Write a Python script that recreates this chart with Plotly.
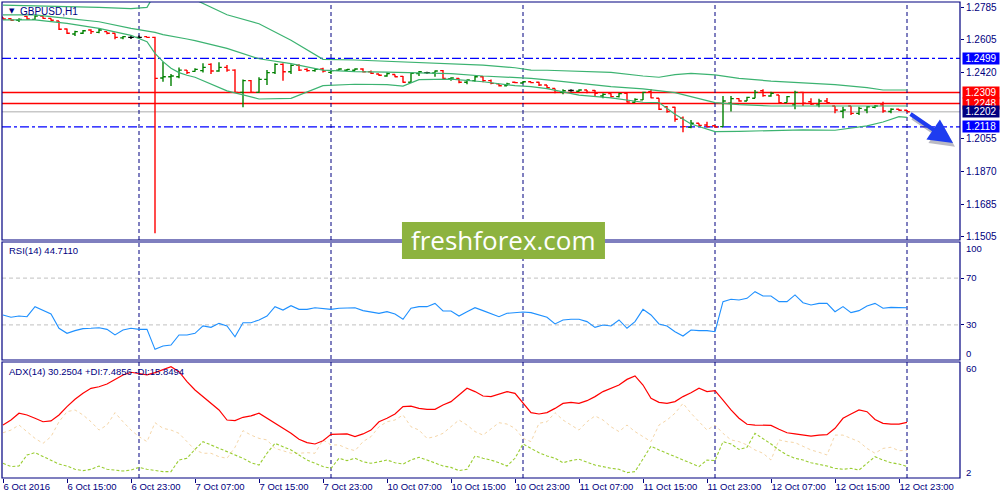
import plotly.graph_objects as go

# --- DATA ---
# bar index 0 = 6 Oct 07:00, one bar per hour, 114 bars (H1)
open_ = [
    1.2728, 1.2720, 1.2711, 1.2733, 1.2716, 1.2735, 1.2722, 1.2707, 1.2663, 1.2635,
    1.2639, 1.2657, 1.2644, 1.2648, 1.2639, 1.2613, 1.2616, 1.2616, 1.2620, 1.2616,
    1.2390, 1.2397, 1.2397, 1.2434, 1.2427, 1.2431, 1.2466, 1.2429, 1.2449, 1.2434,
    1.2310, 1.2375, 1.2310, 1.2382, 1.2420, 1.2466, 1.2425, 1.2460, 1.2438, 1.2431,
    1.2440, 1.2421, 1.2433, 1.2433, 1.2433, 1.2440, 1.2425, 1.2412, 1.2401, 1.2409,
    1.2399, 1.2366, 1.2414, 1.2420, 1.2418, 1.2431, 1.2386, 1.2388, 1.2366, 1.2375,
    1.2397, 1.2375, 1.2357, 1.2347, 1.2366, 1.2362, 1.2369, 1.2366, 1.2351, 1.2332,
    1.2310, 1.2320, 1.2316, 1.2323, 1.2320, 1.2290, 1.2303, 1.2286, 1.2305, 1.2255,
    1.2268, 1.2314, 1.2277, 1.2230, 1.2227, 1.2166, 1.2115, 1.2138, 1.2128, 1.2124,
    1.2119, 1.2249, 1.2275, 1.2262, 1.2277, 1.2319, 1.2290, 1.2295, 1.2253, 1.2240,
    1.2310, 1.2258, 1.2240, 1.2262, 1.2234, 1.2205, 1.2234, 1.2193, 1.2212, 1.2227,
    1.2240, 1.2203, 1.2216, 1.2210]
high = [
    1.2728, 1.2722, 1.2722, 1.2735, 1.2739, 1.2737, 1.2722, 1.2707, 1.2666, 1.2653,
    1.2657, 1.2661, 1.2666, 1.2648, 1.2639, 1.2624, 1.2626, 1.2626, 1.2620, 1.2620,
    1.2481, 1.2412, 1.2449, 1.2434, 1.2444, 1.2472, 1.2472, 1.2477, 1.2462, 1.2438,
    1.2382, 1.2379, 1.2394, 1.2434, 1.2472, 1.2472, 1.2466, 1.2466, 1.2444, 1.2444,
    1.2447, 1.2434, 1.2444, 1.2440, 1.2444, 1.2444, 1.2431, 1.2412, 1.2420, 1.2409,
    1.2401, 1.2420, 1.2429, 1.2425, 1.2431, 1.2434, 1.2394, 1.2388, 1.2382, 1.2401,
    1.2401, 1.2382, 1.2357, 1.2364, 1.2369, 1.2373, 1.2369, 1.2369, 1.2351, 1.2332,
    1.2327, 1.2327, 1.2327, 1.2323, 1.2323, 1.2305, 1.2305, 1.2308, 1.2308, 1.2277,
    1.2314, 1.2327, 1.2277, 1.2234, 1.2230, 1.2175, 1.2156, 1.2138, 1.2147, 1.2128,
    1.2290, 1.2290, 1.2277, 1.2286, 1.2323, 1.2327, 1.2314, 1.2295, 1.2290, 1.2319,
    1.2314, 1.2277, 1.2275, 1.2279, 1.2234, 1.2230, 1.2234, 1.2230, 1.2234, 1.2240,
    1.2258, 1.2221, 1.2217, 1.2212]
low = [
    1.2716, 1.2709, 1.2702, 1.2713, 1.2713, 1.2720, 1.2709, 1.2657, 1.2635, 1.2624,
    1.2635, 1.2635, 1.2639, 1.2633, 1.2605, 1.2605, 1.2607, 1.2607, 1.2613, 1.1526,
    1.2369, 1.2345, 1.2388, 1.2412, 1.2425, 1.2421, 1.2412, 1.2425, 1.2425, 1.2308,
    1.2227, 1.2308, 1.2308, 1.2351, 1.2412, 1.2375, 1.2412, 1.2429, 1.2425, 1.2425,
    1.2421, 1.2412, 1.2431, 1.2429, 1.2431, 1.2420, 1.2412, 1.2401, 1.2397, 1.2394,
    1.2364, 1.2364, 1.2401, 1.2412, 1.2397, 1.2382, 1.2375, 1.2360, 1.2355, 1.2369,
    1.2366, 1.2355, 1.2342, 1.2345, 1.2360, 1.2360, 1.2360, 1.2345, 1.2332, 1.2305,
    1.2299, 1.2314, 1.2314, 1.2305, 1.2290, 1.2277, 1.2282, 1.2282, 1.2253, 1.2253,
    1.2268, 1.2277, 1.2212, 1.2197, 1.2147, 1.2088, 1.2110, 1.2123, 1.2115, 1.2114,
    1.2119, 1.2203, 1.2258, 1.2262, 1.2277, 1.2286, 1.2286, 1.2249, 1.2253, 1.2216,
    1.2234, 1.2240, 1.2227, 1.2249, 1.2193, 1.2166, 1.2184, 1.2184, 1.2193, 1.2221,
    1.2197, 1.2193, 1.2206, 1.2202]
close = [
    1.2718, 1.2711, 1.2716, 1.2718, 1.2735, 1.2722, 1.2711, 1.2661, 1.2639, 1.2648,
    1.2653, 1.2648, 1.2657, 1.2639, 1.2616, 1.2620, 1.2616, 1.2616, 1.2616, 1.2388,
    1.2397, 1.2401, 1.2434, 1.2420, 1.2438, 1.2449, 1.2429, 1.2449, 1.2434, 1.2310,
    1.2375, 1.2310, 1.2382, 1.2420, 1.2466, 1.2425, 1.2460, 1.2434, 1.2431, 1.2438,
    1.2429, 1.2431, 1.2440, 1.2438, 1.2440, 1.2425, 1.2416, 1.2405, 1.2414, 1.2397,
    1.2366, 1.2416, 1.2425, 1.2420, 1.2429, 1.2388, 1.2390, 1.2366, 1.2379, 1.2397,
    1.2375, 1.2360, 1.2347, 1.2357, 1.2364, 1.2369, 1.2364, 1.2351, 1.2336, 1.2310,
    1.2319, 1.2320, 1.2323, 1.2310, 1.2305, 1.2299, 1.2286, 1.2303, 1.2256, 1.2271,
    1.2310, 1.2279, 1.2216, 1.2203, 1.2160, 1.2119, 1.2138, 1.2126, 1.2119, 1.2117,
    1.2262, 1.2275, 1.2262, 1.2282, 1.2310, 1.2292, 1.2305, 1.2253, 1.2286, 1.2310,
    1.2249, 1.2245, 1.2262, 1.2253, 1.2212, 1.2212, 1.2193, 1.2221, 1.2230, 1.2234,
    1.2206, 1.2216, 1.2210, 1.2202]

# Bollinger bands, sampled at these bar indices
bb_idx = [0, 4, 8, 12, 16, 18, 19, 20, 21, 22, 23, 24, 28, 32, 36, 40, 44, 48, 50, 52,
          56, 60, 64, 66, 68, 72, 76, 80, 82, 84, 86, 89, 92, 96, 100, 104, 108, 110, 112, 113]
bb_upper = [1.2796, 1.2792, 1.2789, 1.2783, 1.2776, 1.2783, 1.2860, 1.2900, 1.2890, 1.2870,
            1.2850, 1.2826, 1.2742, 1.2692, 1.2600, 1.2494, 1.2490, 1.2483, 1.2479, 1.2475,
            1.2470, 1.2462, 1.2447, 1.2434, 1.2433, 1.2429, 1.2421, 1.2401, 1.2394, 1.2409,
            1.2416, 1.2407, 1.2388, 1.2373, 1.2364, 1.2353, 1.2336, 1.2323, 1.2323, 1.2323]
bb_mid = [1.2741, 1.2741, 1.2722, 1.2703, 1.2666, 1.2653, 1.2644, 1.2631, 1.2624, 1.2616,
          1.2607, 1.2598, 1.2555, 1.2497, 1.2470, 1.2434, 1.2425, 1.2423, 1.2421, 1.2420,
          1.2414, 1.2401, 1.2395, 1.2388, 1.2379, 1.2360, 1.2342, 1.2329, 1.2319, 1.2308,
          1.2286, 1.2253, 1.2242, 1.2234, 1.2234, 1.2234, 1.2230, 1.2232, 1.2234, 1.2234]
bb_lower = [1.2713, 1.2713, 1.2694, 1.2666, 1.2627, 1.2592, 1.2527, 1.2481, 1.2444, 1.2420,
            1.2405, 1.2394, 1.2318, 1.2273, 1.2277, 1.2347, 1.2355, 1.2353, 1.2345, 1.2381,
            1.2384, 1.2369, 1.2347, 1.2342, 1.2331, 1.2295, 1.2279, 1.2255, 1.2253, 1.2188,
            1.2134, 1.2091, 1.2093, 1.2097, 1.2101, 1.2099, 1.2123, 1.2145, 1.2175, 1.2171]

rsi = [38.5, 36.5, 37.6, 37.0, 45.6, 42.7, 39.3, 27.1, 22.8, 25.1,
       26.8, 27.1, 27.6, 26.2, 21.4, 25.6, 27.1, 26.2, 26.2, 9.1,
       12.0, 12.8, 21.4, 21.4, 22.8, 29.1, 27.9, 31.3, 29.1, 19.9,
       31.9, 31.9, 34.2, 37.6, 45.6, 42.7, 46.4, 43.3, 43.3, 44.7,
       44.2, 43.3, 44.2, 44.2, 44.7, 42.2, 41.3, 39.9, 41.3, 39.3,
       34.8, 44.2, 45.6, 45.6, 48.4, 41.9, 41.9, 37.6, 41.3, 44.7,
       42.2, 39.3, 37.0, 39.9, 40.5, 41.0, 40.5, 38.5, 36.5, 30.8,
       34.2, 34.8, 34.8, 32.8, 27.9, 29.9, 29.1, 34.2, 27.1, 32.8,
       43.3, 38.5, 30.8, 29.1, 24.2, 20.5, 25.6, 25.1, 25.1, 24.2,
       49.9, 51.9, 51.3, 52.7, 58.4, 54.7, 54.7, 49.9, 49.9, 55.6,
       49.0, 47.0, 48.4, 48.4, 41.3, 45.6, 40.5, 42.2, 46.2, 48.4,
       44.2, 45.0, 45.0, 44.71]

adx = [28.9, 31.5, 35.0, 34.1, 32.4, 30.6, 31.0, 34.1, 38.4, 42.2,
       45.3, 47.9, 48.7, 50.1, 52.5, 54.8, 56.2, 55.6, 54.8, 56.0,
       57.4, 59.1, 56.5, 51.3, 47.0, 43.6, 40.1, 36.7, 31.5, 31.2,
       32.9, 33.6, 35.0, 32.4, 29.8, 27.2, 24.6, 21.5, 19.8, 19.1,
       20.8, 24.1, 24.1, 24.3, 22.9, 24.3, 26.3, 30.6, 32.4, 34.6,
       38.4, 38.7, 37.5, 37.0, 37.0, 39.3, 41.0, 44.4, 47.9, 46.2,
       43.9, 43.6, 44.8, 46.2, 45.3, 40.1, 35.3, 34.6, 35.3, 37.5,
       40.1, 40.6, 40.1, 41.5, 43.6, 46.2, 47.9, 49.6, 52.5, 54.3,
       49.6, 42.7, 40.6, 40.1, 41.0, 43.6, 45.6, 47.9, 46.2, 46.7,
       41.8, 36.7, 32.4, 29.3, 28.9, 28.9, 28.7, 26.7, 24.9, 24.3,
       23.7, 23.2, 23.7, 23.9, 27.2, 32.4, 34.6, 36.7, 35.8, 31.8,
       29.8, 29.4, 29.4, 30.25]
plus_di = [9.1, 7.4, 7.7, 13.4, 14.6, 12.5, 10.8, 8.7, 7.7, 6.0,
           5.3, 6.0, 7.7, 6.0, 5.6, 5.1, 5.6, 7.0, 6.0, 5.3,
           4.8, 4.8, 10.8, 11.7, 16.3, 20.3, 18.6, 16.8, 15.1, 13.4,
           11.7, 9.4, 8.2, 14.3, 19.4, 17.7, 16.0, 13.4, 10.8, 9.1,
           7.4, 6.5, 11.7, 10.5, 11.7, 9.9, 9.1, 9.9, 10.8, 9.4,
           8.7, 10.8, 12.2, 10.8, 9.4, 7.7, 7.0, 5.3, 6.0, 12.9,
           11.7, 10.8, 9.4, 7.7, 11.7, 19.1, 16.8, 14.6, 12.9, 11.7,
           9.4, 10.5, 11.2, 9.9, 8.2, 7.4, 6.5, 6.0, 4.3, 4.8,
           11.7, 18.0, 16.0, 14.3, 12.9, 11.2, 9.1, 7.4, 10.8, 10.5,
           20.3, 19.1, 16.3, 17.4, 24.6, 22.0, 19.1, 16.0, 13.4, 11.7,
           10.8, 9.4, 8.7, 7.7, 6.5, 6.0, 6.5, 5.6, 9.1, 12.5,
           10.8, 9.4, 8.7, 7.49]
minus_di = [24.9, 26.3, 28.9, 25.5, 22.0, 19.4, 22.9, 30.6, 35.8, 36.7,
            34.1, 30.6, 26.3, 28.9, 35.3, 30.6, 26.3, 22.9, 20.3, 30.1,
            27.2, 26.3, 24.6, 20.3, 16.0, 14.3, 14.3, 12.5, 11.7, 17.4,
            26.0, 23.7, 22.0, 21.2, 16.8, 15.6, 14.3, 14.3, 14.6, 14.3,
            21.2, 18.6, 18.6, 16.8, 15.6, 20.3, 22.9, 28.0, 30.6, 31.5,
            34.1, 28.0, 26.3, 22.0, 22.9, 24.6, 28.0, 31.5, 28.9, 25.5,
            23.7, 26.7, 30.1, 29.4, 27.2, 22.0, 20.3, 29.8, 30.6, 35.3,
            31.5, 28.9, 26.3, 30.6, 33.6, 31.5, 28.0, 25.5, 28.9, 25.5,
            22.9, 20.3, 28.9, 31.5, 35.0, 40.1, 35.0, 30.6, 26.3, 28.9,
            24.6, 21.2, 20.3, 18.6, 16.0, 14.3, 10.8, 21.2, 20.3, 19.8,
            17.7, 16.0, 14.8, 13.4, 23.7, 23.7, 22.0, 20.3, 16.8, 14.3,
            16.8, 17.4, 15.6, 15.85]

tick_idx = list(range(0, 113, 8))
tick_text = ["6 Oct 2016", "6 Oct 15:00", "6 Oct 23:00", "7 Oct 07:00", "7 Oct 15:00",
             "7 Oct 23:00", "10 Oct 07:00", "10 Oct 15:00", "10 Oct 23:00", "11 Oct 07:00",
             "11 Oct 15:00", "11 Oct 23:00", "12 Oct 07:00", "12 Oct 15:00", "12 Oct 23:00"]
day_breaks = [17, 41, 65, 89, 113]
price_ticks = [1.2785, 1.2605, 1.2420, 1.2055, 1.1870, 1.1685, 1.1505]
support_lines = [1.2499, 1.2118]
resistance_lines = [1.2309, 1.2248]
bid_price = 1.2202

NAVY = "#000080"
FONT = "Liberation Sans"
n = len(close)
idx = list(range(n))

fig = go.Figure()

# --- PRICE PANE ---
for line in (bb_upper, bb_mid, bb_lower):
    fig.add_trace(go.Scatter(x=bb_idx, y=line, mode="lines", line=dict(color="#3cb371", width=1.2),
                             yaxis="y", showlegend=False, hoverinfo="skip"))

# bars: green = up, red = down, black = unchanged
groups = [("#008000", lambda o, c: c > o), ("#ff0000", lambda o, c: c < o), ("#000000", lambda o, c: c == o)]
for color, test in groups:
    sel = [i for i in idx if test(open_[i], close[i])]
    fig.add_trace(go.Ohlc(x=sel, open=[open_[i] for i in sel], high=[high[i] for i in sel],
                          low=[low[i] for i in sel], close=[close[i] for i in sel],
                          increasing_line_color=color, decreasing_line_color=color,
                          line_width=1.4, tickwidth=0.35, yaxis="y", showlegend=False))

# --- RSI PANE ---
fig.add_trace(go.Scatter(x=idx, y=rsi, mode="lines", line=dict(color="#1e90ff", width=1.1),
                         yaxis="y2", showlegend=False))

# --- ADX PANE ---
fig.add_trace(go.Scatter(x=idx, y=minus_di, mode="lines", line=dict(color="#f5d6a8", width=1, dash="3px,3px"),
                         yaxis="y3", showlegend=False))
fig.add_trace(go.Scatter(x=idx, y=plus_di, mode="lines", line=dict(color="#9acd32", width=1.1, dash="3px,2px"),
                         yaxis="y3", showlegend=False))
fig.add_trace(go.Scatter(x=idx, y=adx, mode="lines", line=dict(color="#ff0000", width=1.2),
                         yaxis="y3", showlegend=False))

shapes = []
for lvl in support_lines:
    shapes.append(dict(type="line", xref="paper", x0=0, x1=1, yref="y", y0=lvl, y1=lvl,
                       line=dict(color="#0000ff", width=1.4, dash="dashdot"), layer="below"))
for lvl in resistance_lines:
    shapes.append(dict(type="line", xref="paper", x0=0, x1=1, yref="y", y0=lvl, y1=lvl,
                       line=dict(color="#ff0000", width=1.4), layer="below"))
shapes.append(dict(type="line", xref="paper", x0=0, x1=1, yref="y", y0=bid_price, y1=bid_price,
                   line=dict(color="#c8c8c8", width=1.5), layer="below"))
for lvl in (70, 30):
    shapes.append(dict(type="line", xref="paper", x0=0, x1=1, yref="y2", y0=lvl, y1=lvl,
                       line=dict(color="#c0c0c0", width=1, dash="4px,3px"), layer="below"))
for b in day_breaks:
    shapes.append(dict(type="line", xref="x", x0=b, x1=b, yref="paper", y0=0, y1=1,
                       line=dict(color=NAVY, width=1, dash="4px,3px"), layer="below"))

# pane frames
panes = [(0.5, 1.0), (0.2479, 0.4958), (0.0, 0.2437)]
for y0, y1 in panes:
    shapes.append(dict(type="rect", xref="paper", x0=0, x1=1, yref="paper", y0=y0, y1=y1,
                       line=dict(color=NAVY, width=1.2), layer="above"))

# watermark box
shapes.append(dict(type="rect", xref="paper", x0=0.4175, x1=0.6294, yref="paper", y0=0.4601, y1=0.5378,
                   fillcolor="#8db33f", line=dict(width=0), layer="above"))


def label(text, x, y, size=9.5, **kw):
    return dict(text=text, xref="paper", yref="paper", x=x, y=y, xanchor="left", yanchor="middle",
                showarrow=False, font=dict(family=FONT, size=size, color=NAVY), **kw)


annotations = [
    dict(text="freshforex.com", xref="paper", yref="paper", x=0.5235, y=0.499, xanchor="center",
         yanchor="middle", showarrow=False, font=dict(family="Open Sans", size=26, color="white")),
    dict(text="\u25bc", xref="paper", yref="paper", x=0.0052, y=0.981, xanchor="left", yanchor="middle",
         showarrow=False, font=dict(family="DejaVu Sans", size=7, color=NAVY)),
    label("GBPUSD,H1", 0.0167, 0.979, size=10),
    label("RSI(14) 44.7110", 0.0052, 0.4769),
    label("ADX(14) 30.2504 +DI:7.4856 -DI:15.8494", 0.0052, 0.2227),
]
for txt, ypos in [("100", 0.4811), ("0", 0.2626), ("60", 0.2290), ("2", 0.0126)]:
    annotations.append(label(txt, 1.004, ypos))

# price boxes on the right axis
boxes = [(1.2499, "#0000ff"), (1.2309, "#ff0000"), (1.2248, "#ff0000"), (1.2118, "#0000ff"), (bid_price, "#000080")]
for val, col in boxes:
    annotations.append(dict(text="%.4f" % val, xref="paper", yref="y", x=1.0, y=val, xanchor="left",
                            yanchor="middle", xshift=2, showarrow=False, bgcolor=col, width=36, height=11,
                            borderpad=0, font=dict(family=FONT, size=10, color="white")))

# forecast arrow (with a soft shadow)
annotations.append(dict(x=118.75, y=1.2024, xref="x", yref="y", ax=-44, ay=-30, showarrow=True,
                        arrowhead=2, arrowsize=1.2, arrowwidth=4, arrowcolor="rgba(60,60,90,0.35)",
                        text="", standoff=0, xshift=2, yshift=-3))
annotations.append(dict(x=118.75, y=1.2028, xref="x", yref="y", ax=-44, ay=-30, showarrow=True,
                        arrowhead=2, arrowsize=1.2, arrowwidth=4, arrowcolor="#1e3cf0", text="", standoff=0))

fig.update_layout(
    width=1000, height=500,
    margin=dict(l=2, r=40, t=2, b=22),
    paper_bgcolor="white", plot_bgcolor="white",
    showlegend=False, hovermode=False,
    font=dict(family=FONT, size=9.5, color=NAVY),
    shapes=shapes, annotations=annotations,
    xaxis=dict(range=[-0.125, 119.625], anchor="y3", tickvals=tick_idx, ticktext=tick_text,
               ticks="outside", ticklen=4, tickcolor=NAVY, ticklabelposition="outside right",
               showgrid=False, zeroline=False, showline=False, rangeslider=dict(visible=False),
               tickfont=dict(family=FONT, size=9.5, color=NAVY)),
    yaxis=dict(domain=[0.5, 1.0], range=[1.1488, 1.2813], side="right", anchor="x",
               tickvals=price_ticks, tickformat=".4f", ticks="outside", ticklen=3, tickcolor=NAVY,
               showgrid=False, zeroline=False, tickfont=dict(family=FONT, size=10, color=NAVY)),
    yaxis2=dict(domain=[0.2479, 0.4958], range=[0, 100.85], side="right", anchor="x",
                tickvals=[30, 70], ticks="outside", ticklen=3, tickcolor=NAVY,
                showgrid=False, zeroline=False, tickfont=dict(family=FONT, size=9.5, color=NAVY)),
    yaxis3=dict(domain=[0.0, 0.2437], range=[1.5, 61.5], side="right", anchor="x",
                showticklabels=False, ticks="", showgrid=False, zeroline=False),
)

# the page body has a default 8px margin; drop it so the 1000x500 figure fills the window
fig.write_html("out.html", config={"displayModeBar": False},
               post_script="document.body.style.margin='0px';")
